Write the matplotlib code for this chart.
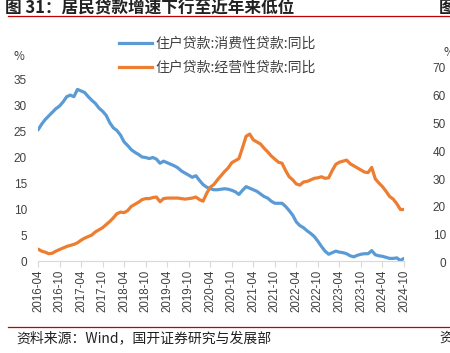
import numpy as np
import pandas as pd
import matplotlib
matplotlib.use('Agg')
import matplotlib.pyplot as plt
from matplotlib.lines import Line2D

plt.rcParams['font.family'] = ['Noto Sans CJK SC', 'DejaVu Sans']

# monthly data, 2016-04 .. 2024-10
months = pd.date_range('2016-04-01', '2024-10-01', freq='MS')
consumer = [25.2, 26.3, 27.2, 27.9, 28.6, 29.3, 29.8, 30.6, 31.6, 31.9,
            31.6, 33.0, 32.7, 32.4, 31.6, 30.9, 30.3, 29.4, 28.8, 28.0,
            26.6, 25.6, 25.1, 24.2, 22.9, 22.2, 21.4, 20.9, 20.5, 20.0,
            19.9, 19.7, 19.9, 19.6, 18.8, 19.2, 18.9, 18.6, 18.3, 17.9,
            17.3, 16.9, 16.5, 16.1, 16.4, 15.5, 14.7, 14.2, 13.9, 13.7,
            13.7, 13.8, 13.9, 13.8, 13.6, 13.3, 12.8, 13.6, 14.3, 14.0,
            13.7, 13.4, 12.9, 12.4, 12.1, 11.5, 11.1, 11.1, 11.1, 10.5,
            9.7, 8.8, 7.5, 6.8, 6.4, 5.8, 5.3, 4.7, 3.8, 2.8,
            1.9, 1.3, 1.6, 1.9, 1.7, 1.6, 1.4, 1.0, 0.8, 1.1,
            1.3, 1.4, 1.4, 2.0, 1.2, 1.0, 0.9, 0.7, 0.5, 0.5,
            0.6, 0.1, 0.5]
business = [2.3, 1.9, 1.7, 1.4, 1.5, 1.9, 2.2, 2.5, 2.8, 3.0,
            3.2, 3.5, 4.0, 4.4, 4.7, 5.0, 5.6, 6.0, 6.4, 7.0,
            7.6, 8.3, 9.1, 9.4, 9.3, 9.7, 10.5, 10.9, 11.3, 11.8,
            12.0, 12.0, 12.2, 12.3, 11.4, 12.0, 12.1, 12.1, 12.1, 12.1,
            12.0, 11.9, 12.0, 12.1, 12.3, 11.8, 11.5, 13.0, 14.2, 14.7,
            15.6, 16.4, 17.2, 17.9, 18.9, 19.3, 19.7, 21.8, 24.0, 24.4,
            23.3, 22.9, 22.5, 21.7, 21.0, 20.2, 19.6, 19.0, 18.8, 17.4,
            16.2, 15.6, 14.8, 14.6, 15.2, 15.3, 15.6, 15.9, 16.0, 16.2,
            15.9, 16.0, 17.4, 18.6, 19.0, 19.2, 19.4, 18.7, 18.3, 17.9,
            17.5, 17.1, 17.0, 18.0, 15.8, 15.0, 14.3, 13.4, 12.4, 11.9,
            11.0, 9.9, 9.9]
series_names = ['住户贷款:消费性贷款:同比', '住户贷款:经营性贷款:同比']
colors = ['#5B9BD5', '#ED7D31']
y_ticks = [0, 5, 10, 15, 20, 25, 30, 35]
right_ticks = [0, 10, 20, 30, 40, 50, 60, 70]

W, H = 450, 353
fig = plt.figure(figsize=(W / 100, H / 100), dpi=100)
ax = fig.add_axes([38 / W, (H - 261) / H, (404 - 38) / W, (261 - 79) / H])

x = np.arange(len(months))
ax.plot(x, consumer, color=colors[0], lw=2.3, solid_capstyle='round')
ax.plot(x, business, color=colors[1], lw=2.3, solid_capstyle='round')

ax.set_xlim(0, len(months) - 1)
ax.set_ylim(0, 35)
ax.set_yticks(y_ticks)
tick_pos = x[::6]
ax.set_xticks(tick_pos)
ax.set_xticklabels([months[i].strftime('%Y-%m') for i in tick_pos],
                   rotation=90, fontsize=8.3, color='#404040', family='Liberation Sans')
ax.tick_params(axis='x', length=4, color='#d9d9d9', pad=2)
ax.tick_params(axis='y', length=0, labelsize=8.5, labelcolor='#404040', pad=8)
for lab in ax.get_yticklabels():
    lab.set_family('Liberation Sans')
for s in ['top', 'right', 'left']:
    ax.spines[s].set_visible(False)
ax.spines['bottom'].set_color('#d9d9d9')

# legend
handles = [Line2D([], [], color=c, lw=2.3) for c in colors]
fig.legend(handles, series_names, loc='upper left', bbox_to_anchor=(106 / W, 1 - 24 / H),
           frameon=False, fontsize=10, labelcolor='#404040', handlelength=2.4,
           handletextpad=0.3, labelspacing=0.75)

fig.text(19 / W, 1 - 57 / H, '%', fontsize=8.5, color='#404040', ha='center', va='center')

# title and rules
fig.text(5 / W, 1 - 8 / H, '图 31：居民贷款增速下行至近年来低位', fontsize=12,
         fontweight='bold', color='#222222', va='center', ha='left')
fig.text(439 / W, 1 - 8 / H, '图', fontsize=12, fontweight='bold', color='#222222',
         va='center', ha='left')
fig.add_artist(Line2D([8 / W, 1], [1 - 16 / H] * 2, color='#c00000', lw=0.9))
fig.add_artist(Line2D([8 / W, 1], [1 - 327 / H] * 2, color='#c00000', lw=0.9))
fig.text(16 / W, 1 - 338 / H, '资料来源：Wind，国开证券研究与发展部', fontsize=10,
         color='#222222', va='center', ha='left')
fig.text(439 / W, 1 - 338 / H, '资', fontsize=10, color='#222222', va='center', ha='left')

# neighbouring chart's axis, cut by the crop
for v in right_ticks:
    fig.text(446 / W, 1 - (264 - v * 2.78) / H, str(v), fontsize=8.5, color='#404040',
             ha='right', va='center', family='Liberation Sans')
fig.text(444 / W, 1 - 52 / H, '%', fontsize=8.5, color='#404040', ha='left', va='center')

fig.savefig('out.png', dpi=100)
